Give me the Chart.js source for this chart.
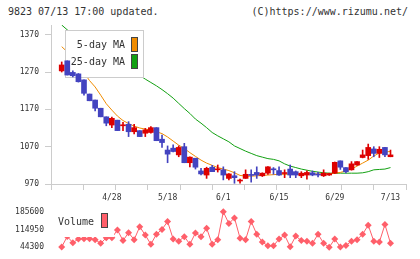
<!DOCTYPE html>
<html>
<head>
<meta charset="utf-8">
<script src="https://cdn.jsdelivr.net/npm/chart.js@4/dist/chart.umd.min.js"></script>
<style>
body{margin:0;background:#fff;width:420px;height:259px;overflow:hidden;position:relative;font-family:"DejaVu Sans Mono",monospace;}
.hd{position:absolute;top:6px;font-size:10px;line-height:12px;color:#333;white-space:nowrap;}
#hdl{left:8px;}
#hdr{right:12px;}
#priceChart{position:absolute;left:0;top:0;}
#volChart{position:absolute;left:0;top:200px;}
</style>
</head>
<body>
<div class="hd" id="hdl">9823 07/13 17:00 updated.</div>
<div class="hd" id="hdr">(C)https://www.rizumu.net/</div>
<canvas id="priceChart" width="420" height="205"></canvas>
<canvas id="volChart" width="420" height="59"></canvas>
<script>

/* DATA */

const dates=["4/15","4/16","4/17","4/20","4/21","4/22","4/23","4/24","4/27","4/28",
"4/30","5/1","5/7","5/8","5/11","5/12","5/13","5/14","5/15","5/18",
"5/19","5/20","5/21","5/22","5/25","5/26","5/27","5/28","5/29","6/1",
"6/2","6/3","6/4","6/5","6/8","6/9","6/10","6/11","6/12","6/15",
"6/16","6/17","6/18","6/19","6/22","6/23","6/24","6/25","6/26","6/29",
"6/30","7/1","7/2","7/3","7/6","7/7","7/8","7/9","7/10","7/13"];

const tickDates=["4/28","5/18","6/1","6/15","6/29","7/13"];

const open =[1273,1300,1269,1265,1249,1211,1195,1173,1150,1128,1141,1126,1130,1110,1113,1106,1108,1121,1090,1061,
1066,1048,1070,1027,1039,1005,994,1015,1008,1008,985,992,978,985,994,1001,992,999,1009,1006,
998,1010,1003,992,994,1000,995,992,994,999,1032,1014,1008,1021,1041,1046,1064,1052,1068,1043];
const high =[1297,1300,1273,1266,1249,1211,1195,1173,1150,1149,1141,1135,1137,1130,1113,1119,1124,1121,1101,1072,
1075,1072,1079,1043,1039,1012,1015,1020,1021,1016,998,1003,983,1008,1008,1016,1000,1017,1014,1016,
1008,1021,1005,1003,1005,1005,1001,1008,999,1029,1032,1014,1030,1030,1061,1077,1070,1070,1068,1061];
const low  =[1270,1262,1257,1243,1208,1193,1166,1150,1126,1121,1113,1113,1097,1104,1097,1097,1106,1086,1068,1027,
1056,1043,1027,1016,1010,994,985,1003,1002,981,981,972,972,985,975,985,990,996,996,993,
987,987,987,987,983,992,989,990,993,998,1009,1000,1007,1020,1040,1036,1043,1041,1043,1043];
const close=[1289,1262,1260,1244,1213,1193,1173,1150,1133,1146,1113,1127,1110,1121,1097,1115,1121,1086,1081,1050,
1057,1068,1027,1042,1015,997,1012,1003,1009,994,997,987,979,996,993,994,999,1016,1008,994,
999,994,994,999,1001,994,994,999,998,1028,1015,1003,1024,1030,1048,1068,1052,1063,1048,1048];

const ma5 =[1338,1324,1308,1288,1268,1247,1230,1208,1185,1168,1152,1140,1132,1125,1120,1117,1115,1110,1105,1096,
1085,1074,1065,1054,1044,1034,1026,1020,1014,1010,1006,1000,993,991,991,992,993,994,995,996,
996,996,996,996,997,997,997,997,998,999,1001,1005,1010,1018,1026,1034,1045,1053,1056,1057];
const ma25=[1396,1383,1374,1365,1356,1346,1337,1328,1318,1309,1300,1290,1281,1271,1261,1251,1242,1233,1223,1212,
1200,1186,1172,1159,1144,1133,1121,1108,1099,1091,1083,1072,1065,1058,1052,1046,1042,1038,1036,1032,
1024,1018,1014,1010,1007,1004,1002,1000,999,999,999,999,999,999,1000,1003,1008,1009,1010,1014];

const volume=[45500,87000,62400,76900,78000,78000,74400,59900,81600,81600,
113100,70700,102300,74400,125800,92500,56300,96100,115300,146800,
76900,68200,86300,56300,100800,86300,120400,56300,74400,185600,
138500,161300,80500,74400,146800,96100,64600,50100,50100,76900,
92500,46500,88900,70700,68200,59900,96100,59900,44300,76900,
45000,51500,68200,74400,96100,132300,68200,64600,134900,59900];

const priceTicks=[970,1070,1170,1270,1370];
const volTicks=[44300,114950,185600];

/* STYLE */

const UP="#dd0000", DOWN="#4343c0", MA5C="#f08c00", MA25C="#12a012", VOLC="#ff5f6a";
const AXIS="#cccccc", TXT="#333333";
const FONT='"DejaVu Sans Mono"';
const xMin=-1.92, xMax=61.78;

Chart.defaults.font.family=FONT;
Chart.defaults.color=TXT;

const candleColor=dates.map((d,i)=>close[i]>=open[i]?UP:DOWN);

/* LEGENDS */

const priceLegend={
id:"priceLegend",
beforeDatasetDraw(chart,args){
if(args.index!==1) return;
const c=chart.ctx, L=chart.chartArea.left;
c.save();
c.fillStyle="#fff";
c.fillRect(L+14,30,79,48);
c.strokeStyle=AXIS;c.lineWidth=1;
c.strokeRect(L+14.5,30.5,78,47);
c.font="10px "+FONT;c.fillStyle=TXT;c.textAlign="right";c.textBaseline="middle";
c.fillText("5-day MA",L+74,45);
c.fillText("25-day MA",L+74,62);
[[MA5C,37],[MA25C,54]].forEach(([col,y])=>{
c.fillStyle=col;c.fillRect(L+80,y,6,15);
c.strokeStyle="#444";c.strokeRect(L+80.5,y+0.5,6,14);
});
c.restore();
}
};

const volLegend={
id:"volLegend",
afterDatasetsDraw(chart){
const c=chart.ctx, L=chart.chartArea.left;
c.save();
c.fillStyle="#fff";
c.fillRect(L+3,6,60,31);
c.font="10px "+FONT;c.fillStyle=TXT;c.textAlign="left";c.textBaseline="middle";
c.fillText("Volume",L+7,22);
c.fillStyle=VOLC;c.fillRect(L+50,13,7,15);
c.strokeStyle="#444";c.lineWidth=1;c.strokeRect(L+50.5,13.5,6,14);
c.restore();
}
};

/* PRICE CHART */

new Chart(document.getElementById("priceChart"),{
type:"bar",
data:{
datasets:[
{
label:"body",
data:dates.map((d,i)=>({x:i,y:[open[i],close[i]]})),
backgroundColor:candleColor,
barThickness:5,
minBarLength:1,
grouped:false,
order:0
},
{
label:"wick",
data:dates.map((d,i)=>({x:i,y:[low[i],high[i]]})),
backgroundColor:candleColor,
barThickness:1,
grouped:false,
order:1
},
{
type:"line",
label:"5-day MA",
data:dates.map((d,i)=>({x:i,y:ma5[i]})),
borderColor:MA5C,
borderWidth:1,
pointRadius:0,
order:2
},
{
type:"line",
label:"25-day MA",
data:dates.map((d,i)=>({x:i,y:ma25[i]})),
borderColor:MA25C,
borderWidth:1,
pointRadius:0,
order:3
}
]
},
options:{
responsive:false,
animation:false,
layout:{padding:{top:25,right:14,left:0,bottom:0}},
plugins:{legend:{display:false},tooltip:{enabled:false}},
scales:{
x:{
type:"linear",
min:xMin,max:xMax,
offset:false,
weight:0,
grid:{offset:false,drawOnChartArea:false,color:AXIS,tickLength:6},
border:{color:AXIS},
ticks:{display:false},
afterBuildTicks(s){
s.ticks=Array.from({length:12},(_,k)=>({value:xMin+k*(xMax-xMin)/11}));
},
afterFit(s){s.height=6;}
},
xl:{
type:"linear",
position:"bottom",
min:xMin,max:xMax,
offset:false,
weight:1,
grid:{display:false,drawTicks:false,offset:false},
border:{display:false},
ticks:{
autoSkip:false,maxRotation:0,padding:3,
font:{size:8},color:TXT,
callback:v=>dates[v]
},
afterBuildTicks(s){
s.ticks=tickDates.map(d=>({value:dates.indexOf(d)}));
},
afterFit(s){s.height=15;}
},
y:{
type:"linear",
min:970,max:1396,
grid:{drawOnChartArea:false,color:AXIS,tickLength:6},
border:{color:AXIS},
ticks:{font:{size:8},color:TXT,padding:6,callback:v=>String(v)},
afterBuildTicks(s){
s.ticks=priceTicks.map(v=>({value:v}));
},
afterFit(s){s.width=51;}
}
}
},
plugins:[priceLegend]
});

/* VOLUME CHART */

new Chart(document.getElementById("volChart"),{
type:"line",
data:{
datasets:[{
label:"Volume",
data:dates.map((d,i)=>({x:i,y:volume[i]})),
borderColor:VOLC,
borderWidth:1,
pointStyle:"rectRot",
pointRadius:3.5,
pointBackgroundColor:VOLC,
pointBorderWidth:0,
clip:false
}]
},
options:{
responsive:false,
animation:false,
layout:{padding:{top:9.3,right:14,left:0,bottom:10.7}},
plugins:{legend:{display:false},tooltip:{enabled:false}},
scales:{
x:{type:"linear",min:xMin,max:xMax,display:false},
y:{
type:"linear",
min:44300,max:185600,
grid:{display:false,drawTicks:false},
border:{display:false},
ticks:{font:{size:8},color:TXT,padding:7,callback:v=>String(v)},
afterBuildTicks(s){
s.ticks=volTicks.map(v=>({value:v}));
},
afterFit(s){s.width=51;}
}
}
},
plugins:[volLegend]
});

</script>
</body>
</html>
